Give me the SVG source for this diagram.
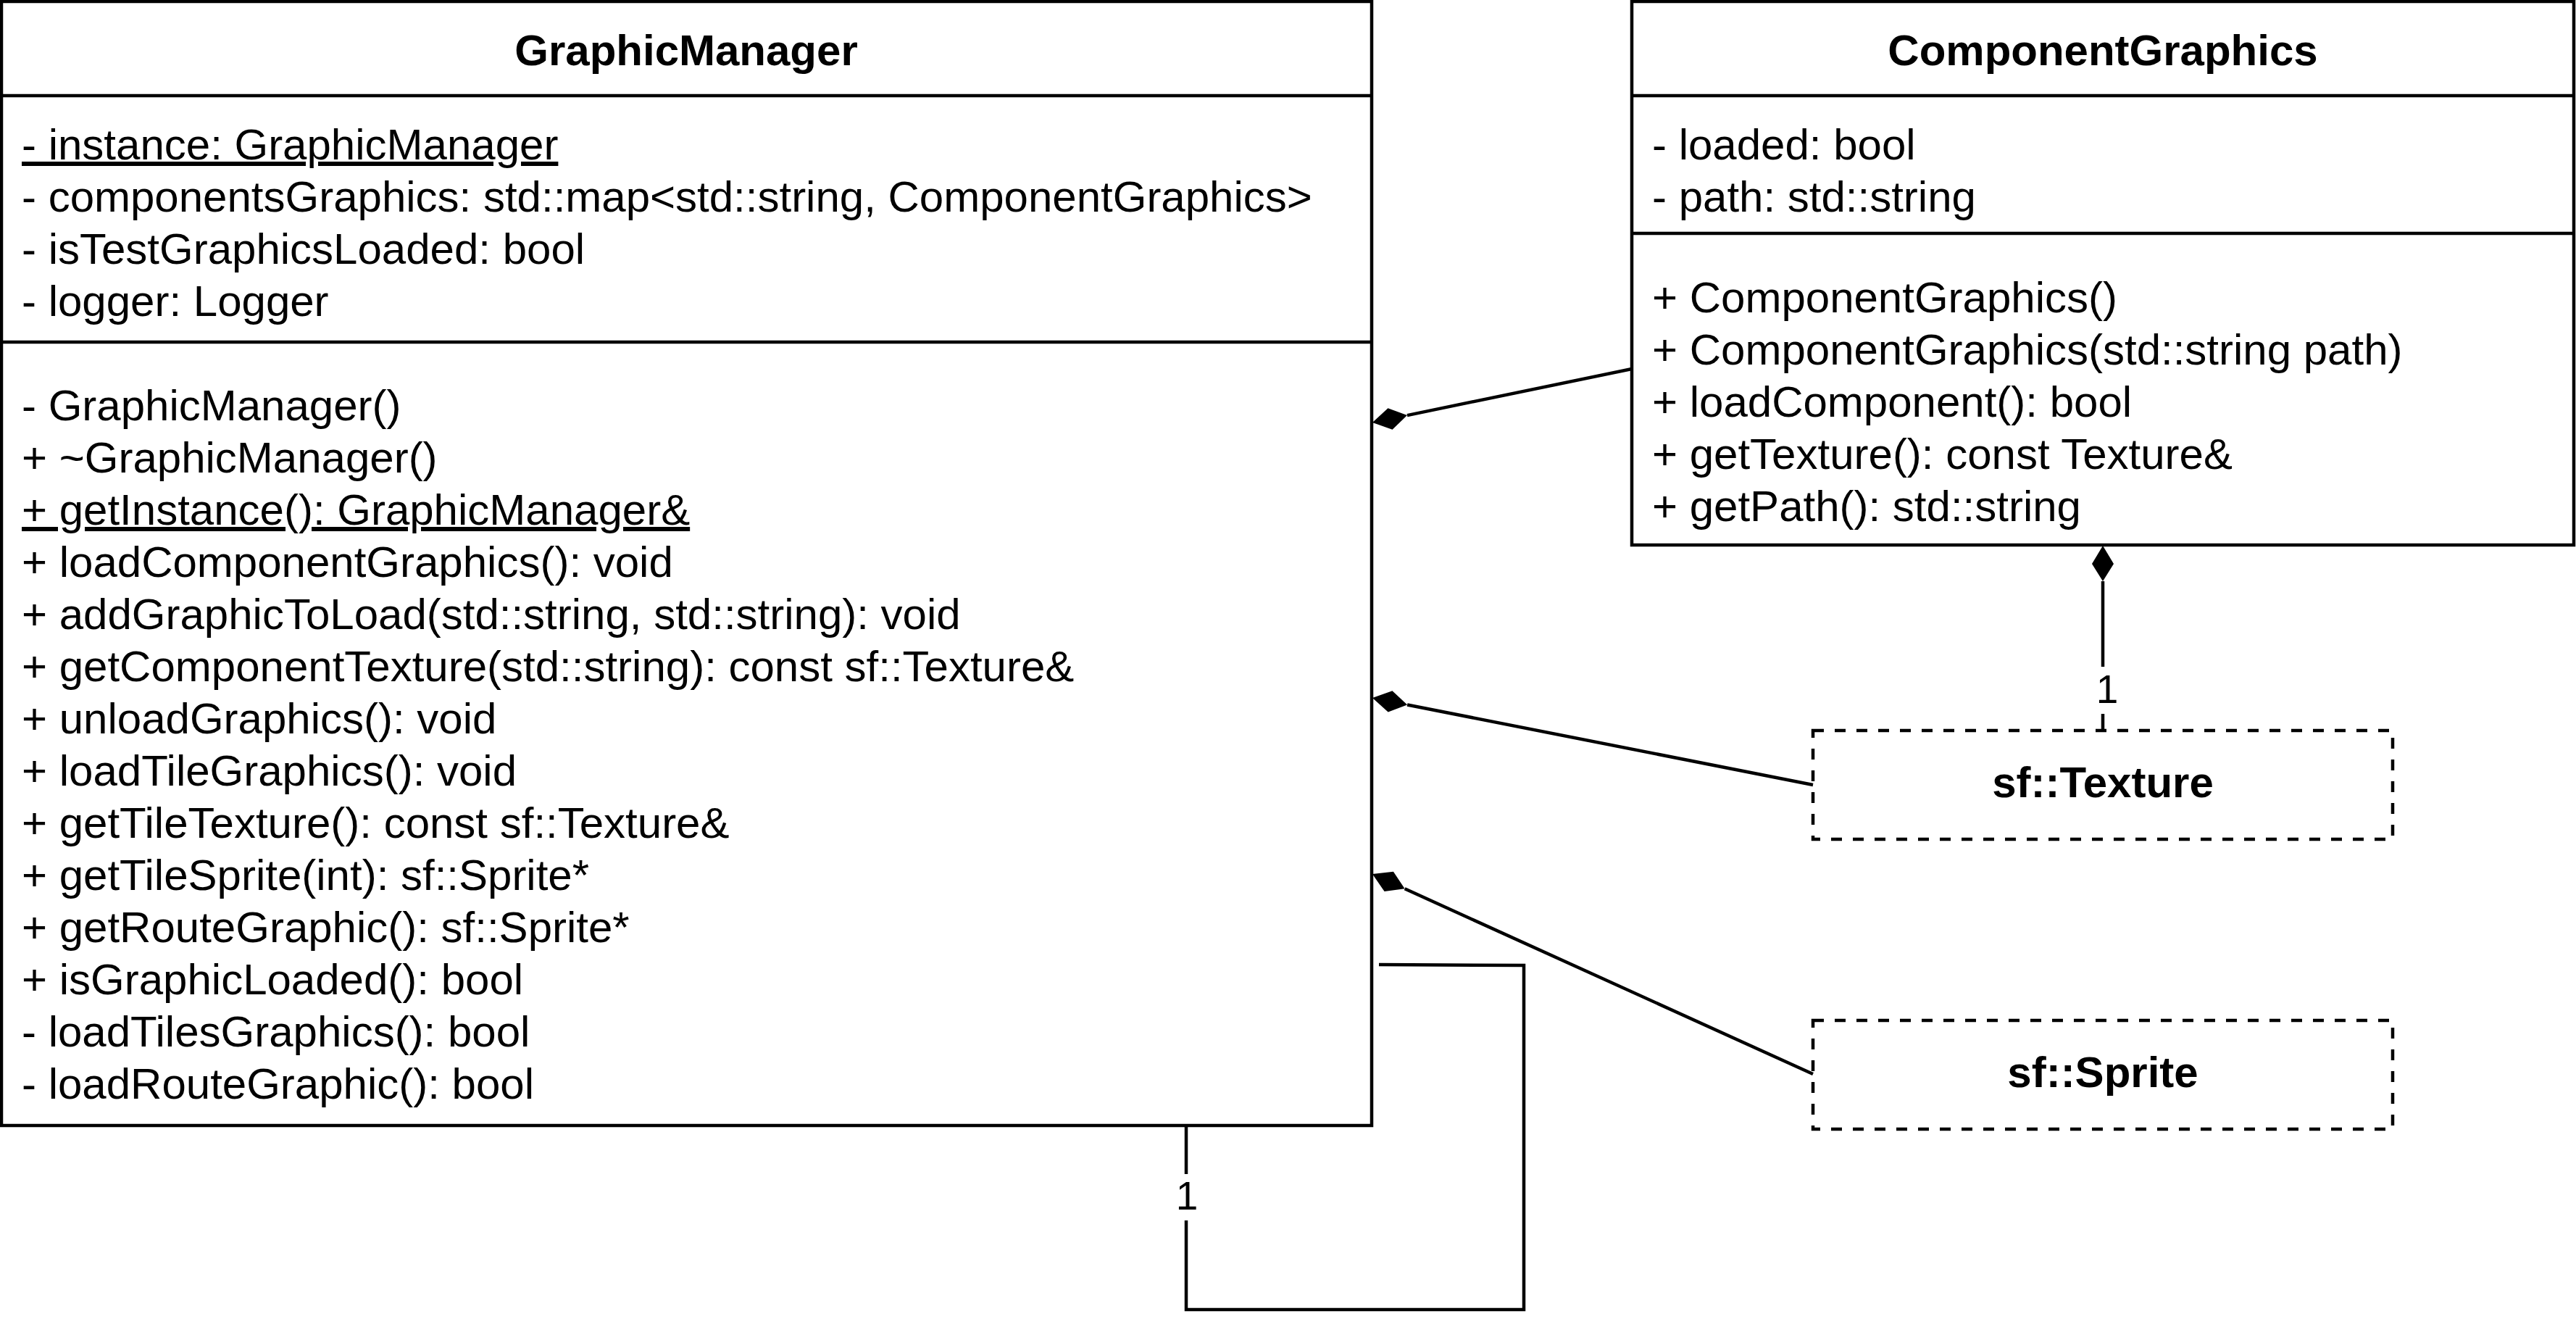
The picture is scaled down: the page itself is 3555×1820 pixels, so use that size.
<svg xmlns="http://www.w3.org/2000/svg" width="3555" height="1820" viewBox="0 0 3555 1820">
<defs>
<style>
.box{fill:#fff;stroke:#000;stroke-width:4.5}
.dash{fill:#fff;stroke:#000;stroke-width:4.5;stroke-dasharray:15 15}
.sep{stroke:#000;stroke-width:4.5;fill:none}
.t{font-family:"Liberation Sans",Arial,sans-serif;font-size:60px;fill:#000}
.b{font-weight:bold;text-anchor:middle}
.u{text-decoration:underline}
.edge{fill:none;stroke:#000;stroke-width:4.5}
.lbl{font-family:"Liberation Sans",Arial,sans-serif;font-size:55px;fill:#000;text-anchor:middle}
.lblbg{fill:#fff;stroke:none}
</style>
<marker id="diamond" markerUnits="userSpaceOnUse" viewBox="0 -16 50 32" markerWidth="50" markerHeight="32" refX="49" refY="0" orient="auto">
<path d="M0,0 L25,-15 L49,0 L25,15 Z" fill="#000" stroke="none"/>
</marker>
</defs>
<rect width="3555" height="1820" fill="#fff"/>

<g id="GraphicManager">
<rect class="box" x="2" y="2" width="1891" height="1551"/>
<line class="sep" x1="2" y1="132" x2="1893" y2="132"/>
<line class="sep" x1="2" y1="472" x2="1893" y2="472"/>
<text class="t b" x="947" y="90">GraphicManager</text>
<text class="t u" x="30" y="220">- instance: GraphicManager</text>
<text class="t" x="30" y="292">- componentsGraphics: std::map&lt;std::string, ComponentGraphics&gt;</text>
<text class="t" x="30" y="364">- isTestGraphicsLoaded: bool</text>
<text class="t" x="30" y="436">- logger: Logger</text>
<text class="t" x="30" y="580">- GraphicManager()</text>
<text class="t" x="30" y="652">+ ~GraphicManager()</text>
<text class="t u" x="30" y="724">+ getInstance(): GraphicManager&amp;</text>
<text class="t" x="30" y="796">+ loadComponentGraphics(): void</text>
<text class="t" x="30" y="868">+ addGraphicToLoad(std::string, std::string): void</text>
<text class="t" x="30" y="940">+ getComponentTexture(std::string): const sf::Texture&amp;</text>
<text class="t" x="30" y="1012">+ unloadGraphics(): void</text>
<text class="t" x="30" y="1084">+ loadTileGraphics(): void</text>
<text class="t" x="30" y="1156">+ getTileTexture(): const sf::Texture&amp;</text>
<text class="t" x="30" y="1228">+ getTileSprite(int): sf::Sprite*</text>
<text class="t" x="30" y="1300">+ getRouteGraphic(): sf::Sprite*</text>
<text class="t" x="30" y="1372">+ isGraphicLoaded(): bool</text>
<text class="t" x="30" y="1444">- loadTilesGraphics(): bool</text>
<text class="t" x="30" y="1516">- loadRouteGraphic(): bool</text>
</g>

<g id="ComponentGraphics">
<rect class="box" x="2252" y="2" width="1300" height="750"/>
<line class="sep" x1="2252" y1="132" x2="3552" y2="132"/>
<line class="sep" x1="2252" y1="322" x2="3552" y2="322"/>
<text class="t b" x="2902" y="90">ComponentGraphics</text>
<text class="t" x="2280" y="220">- loaded: bool</text>
<text class="t" x="2280" y="292">- path: std::string</text>
<text class="t" x="2280" y="431">+ ComponentGraphics()</text>
<text class="t" x="2280" y="503">+ ComponentGraphics(std::string path)</text>
<text class="t" x="2280" y="575">+ loadComponent(): bool</text>
<text class="t" x="2280" y="647">+ getTexture(): const Texture&amp;</text>
<text class="t" x="2280" y="719">+ getPath(): std::string</text>
</g>

<g id="sfTexture">
<rect class="dash" x="2502" y="1008" width="800" height="150"/>
<text class="t b" x="2902" y="1100">sf::Texture</text>
</g>

<g id="sfSprite">
<rect class="dash" x="2502" y="1408" width="800" height="150"/>
<text class="t b" x="2902" y="1500">sf::Sprite</text>
</g>

<g id="connectors">
<path class="edge" marker-start="url(#diamond)" d="M1942,573.1 L2252,509"/>
<path class="edge" marker-start="url(#diamond)" d="M1942.1,972.5 L2502,1083"/>
<path class="edge" marker-start="url(#diamond)" d="M1938.6,1226.3 L2502,1482"/>
<path class="edge" marker-start="url(#diamond)" d="M2902,802 L2902,1008"/>
<path class="edge" d="M1637,1555 L1637,1807 L2103,1807 L2103,1332 L1903,1331"/>
<rect class="lblbg" x="2888" y="920" width="40" height="65"/>
<text class="lbl" x="2908" y="970">1</text>
<rect class="lblbg" x="1618" y="1620" width="40" height="64"/>
<text class="lbl" x="1638" y="1669">1</text>
</g>
</svg>
